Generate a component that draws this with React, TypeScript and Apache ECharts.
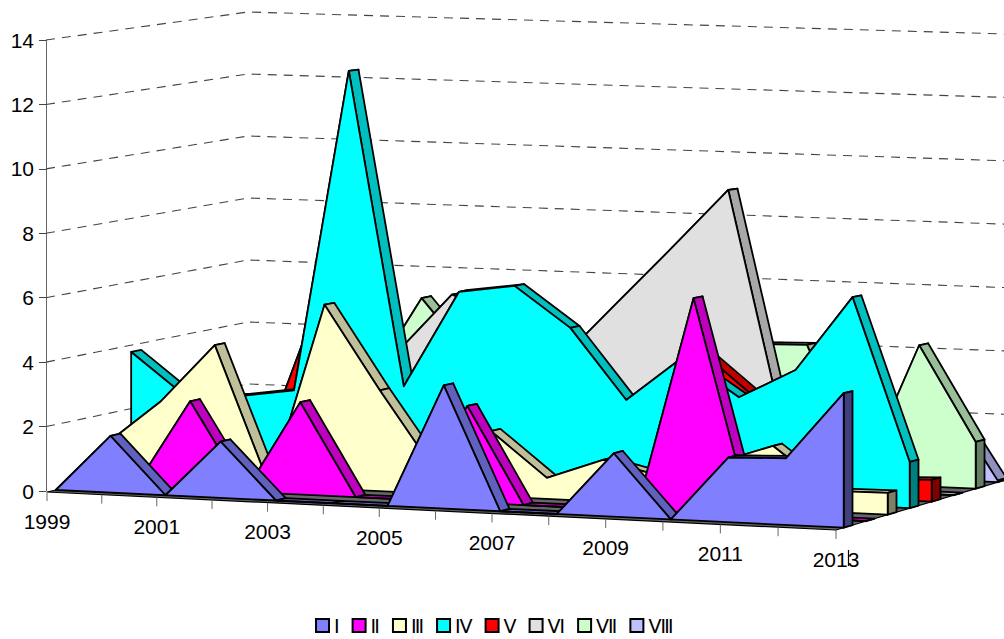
import React, { useEffect, useRef } from "react";
import * as echarts from "echarts";

const years = ["1999","2000","2001","2002","2003","2004","2005","2006","2007","2008","2009","2010","2011","2012","2013"];
const yTicks = [2, 4, 6, 8, 10, 12, 14];
const s1 = [0, 1.75, 0, 1.72, 0, 0, 0, 3.7, 0, 0, 1.88, 0, 1.9, 1.95, 3.92];
const s2 = [0, 0, 2.72, 0, 2.83, 0, 0, 2.92, 0, 0, 0, 6.4, 0, 0, 0];
const s3 = [1.08, 2.47, 4.3, 0, 5.67, 3.1, 0.69, 1.99, 0.64, 1.26, 0.85, 1.32, 1.9, 0.63, 0.65];
const s4 = [3.8, 2.48, 2.55, 2.8, 12.78, 3.06, 6.04, 6.28, 5.05, 2.91, 4.27, 3.13, 4.02, 6.28, 1.39];
const s5 = [1, 1, 0.8, 5.45, 3, 1.6, 3, 3, 3, 2.5, 4.19, 2.78, 1.5, 0.6, 0.66];
const s6 = [1, 1, 1.5, 2, 3.73, 5.6, 5, 3.73, 5.53, 7.32, 9.15, 1.7, 1, 0, 0];
const s7 = [1, 1.5, 2, 2.46, 5.28, 3.25, 4, 3.5, 4, 4, 4.22, 4.26, 0.3, 4.38, 1.45];
const s8 = [1, 1, 1, 1, 1, 1, 1, 1, 1, 1, 1, 1, 1, 2.75, 0.05];
const names = ["Ⅰ", "Ⅱ", "Ⅲ", "Ⅳ", "Ⅴ", "Ⅵ", "Ⅶ", "Ⅷ"];
const values = [s1, s2, s3, s4, s5, s6, s7, s8];
const faces = ["#8080FF", "#FF00FF", "#FFFFCC", "#00FFFF", "#FF0000", "#E0E0E0", "#CCFFCC", "#C0C0FF"];
const sides = ["#6060BF", "#BF00BF", "#BFBF99", "#00BFBF", "#BF0000", "#A8A8A8", "#99BF99", "#9090BF"];
const caps = ["#40407F", "#7F007F", "#7F7F66", "#007F7F", "#7F0000", "#707070", "#667F66", "#60607F"];

const GRID_L = 46, GRID_T = 40, GRID_W = 789, GRID_H = 451;
const THICK = 0.4, INSET = 0.35, DEPTHS = 8;
const FONT = "Liberation Sans, Arial, sans-serif";

function project(api: any, i: number, v: number, d: number) {
  const [px, py] = api.coord([i, v]);
  const p0 = api.coord([i, 0])[1];
  const r = (px - GRID_L) / GRID_W;
  const u = 0.9697 * r + 0.0303 * r * r;
  const h = (p0 - py) / (GRID_H / 14);
  const w = d / DEPTHS;
  const x = 47 + 789 * u + w * (201 - 25 * u);
  const y0 = 492 + 38 * u - w * (46 + 6 * u);
  const s = (32.36 + 2.1 * u) * (1 - w) + (31 + 0.7 * u) * w;
  return [x, y0 - h * s];
}

const edge = { stroke: "#000", lineWidth: 1.8, lineJoin: "round" };

function renderSeries(k: number) {
  return (params: any, api: any) => {
    if (params.dataIndex !== 0) return null;
    const vals = values[k];
    const d1 = k + INSET, d2 = k + INSET + THICK;
    const front = vals.map((v, i) => project(api, i, v, d1));
    const back = vals.map((v, i) => project(api, i, v, d2));
    const last = vals.length - 1;
    const children: any[] = [];
    for (let i = 0; i < last; i++) {
      children.push({
        type: "polygon",
        shape: { points: [front[i], front[i + 1], back[i + 1], back[i]] },
        style: { fill: sides[k], ...edge },
      });
    }
    children.push({
      type: "polygon",
      shape: { points: [front[last], back[last], project(api, last, 0, d2), project(api, last, 0, d1)] },
      style: { fill: caps[k], ...edge },
    });
    children.push({
      type: "polygon",
      shape: { points: [...front, project(api, last, 0, d1), project(api, 0, 0, d1)] },
      style: { fill: faces[k], ...edge },
    });
    return { type: "group", children };
  };
}

function renderFrame(params: any, api: any) {
  if (params.dataIndex !== 0) return null;
  const last = years.length - 1;
  const children: any[] = [];
  yTicks.forEach((v) => {
    children.push({
      type: "polyline",
      shape: { points: [api.coord([0, v]), project(api, 0, v, DEPTHS), project(api, last, v, DEPTHS)] },
      style: { fill: "none", stroke: "#444", lineWidth: 1.1, lineDash: [9, 7] },
    });
  });
  children.push({
    type: "polygon",
    shape: { points: [project(api, 0, 0, 0), project(api, last, 0, 0), project(api, last, 0, DEPTHS), project(api, 0, 0, DEPTHS)] },
    style: { fill: "#666", stroke: "#000", lineWidth: 1.2 },
  });
  years.forEach((y, i) => {
    const [x, b] = project(api, i, 0, 0);
    children.push({
      type: "line",
      shape: { x1: x, y1: b, x2: x, y2: b + 9 },
      style: { stroke: "#666", lineWidth: 1 },
    });
    if (i % 2 === 0) {
      children.push({
        type: "text",
        style: { x, y: b + 29, text: y, fill: "#000", font: `21px ${FONT}`, align: "center", verticalAlign: "middle" },
      });
    }
    if (i === last) {
      children.push({
        type: "line",
        shape: { x1: x + 12.5, y1: b + 20, x2: x + 12.5, y2: b + 36 },
        style: { stroke: "#000", lineWidth: 1.2 },
      });
    }
  });
  return { type: "group", children };
}

export default function App() {
  const ref = useRef<HTMLDivElement>(null);
  useEffect(() => {
    const chart = echarts.init(ref.current!, undefined, { renderer: "svg" });
    const series: any[] = [
      {
        type: "custom",
        name: "frame",
        z: 1,
        silent: true,
        renderItem: renderFrame,
        data: years.map((_, i) => [i, 0]),
        encode: { x: 0, y: 1 },
      },
      ...names.map((name, k) => ({
        type: "custom",
        name,
        z: 20 - k,
        silent: true,
        renderItem: renderSeries(k),
        itemStyle: { color: faces[k] },
        data: values[k].map((v, i) => [i, v]),
        encode: { x: 0, y: 1 },
      })),
    ];
    chart.setOption({
      animation: false,
      backgroundColor: "#fff",
      textStyle: { fontFamily: FONT },
      grid: { left: GRID_L, top: GRID_T, width: GRID_W, height: GRID_H, containLabel: false },
      xAxis: {
        type: "category",
        data: years,
        boundaryGap: false,
        axisLine: { show: false },
        axisTick: { show: false },
        axisLabel: { show: false },
      },
      yAxis: {
        type: "value",
        min: 0,
        max: 14,
        interval: 2,
        splitLine: { show: false },
        axisLine: { show: true, lineStyle: { color: "#666", width: 1 } },
        axisTick: { show: true, length: 7, lineStyle: { color: "#444", width: 1 } },
        axisLabel: { color: "#000", fontSize: 21, fontFamily: FONT, margin: 12 },
      },
      legend: {
        data: names,
        left: 315,
        top: 615,
        padding: 0,
        itemWidth: 13,
        itemHeight: 13,
        itemGap: 12,
        icon: "rect",
        selectedMode: false,
        itemStyle: { borderColor: "#000", borderWidth: 2 },
        textStyle: { color: "#000", fontSize: 19, lineHeight: 21, fontFamily: "DejaVu Sans, sans-serif" },
      },
      series,
    });
    return () => chart.dispose();
  }, []);
  return <div ref={ref} style={{ position: "fixed", left: 0, top: 0, width: 1004, height: 639 }} />;
}
